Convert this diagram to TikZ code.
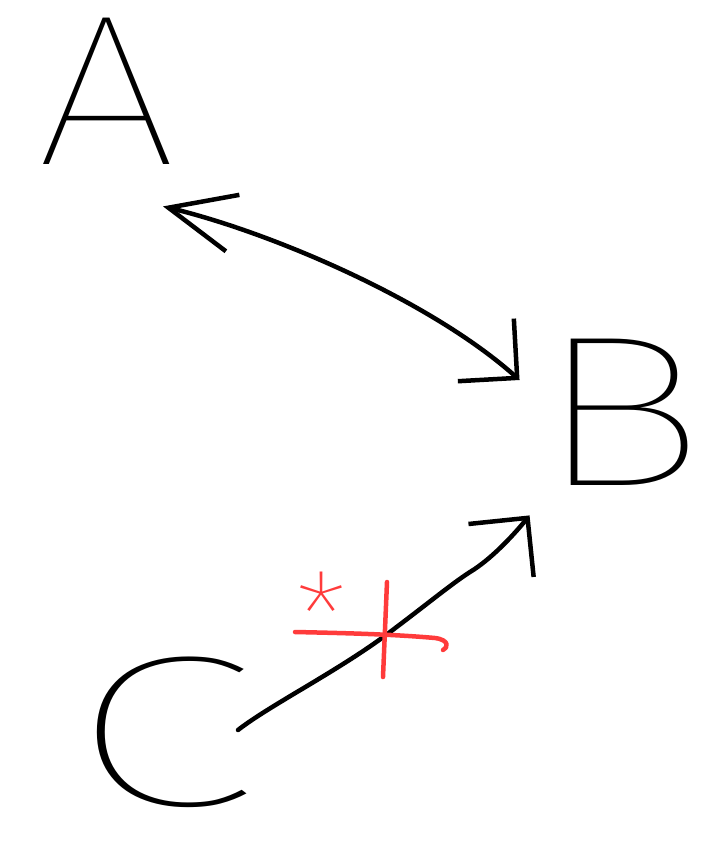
\documentclass[tikz,border=0pt]{standalone}
\usepackage{fontspec}
\usepackage{xcolor}
\usetikzlibrary{arrows.meta}
\newfontfamily\sketchfont{Fira Sans}[UprightFont=* Thin]
\definecolor{penred}{RGB}{255, 59, 59}

\begin{document}
\begin{tikzpicture}[x=1pt, y={(0pt,-1pt)}, line cap=round, line join=round,
    letter/.style={inner sep=0pt, transform shape, font=\sketchfont\fontsize{215}{215}\selectfont},
    pen/.style={line width=4.5pt, black},
    redpen/.style={line width=4.5pt, penred},
    >={Straight Barb[length=42pt, width=84pt]}]
    \useasboundingbox (0,0) rectangle (727,847);

    \node[letter, xscale=1.17] (A) at (107, 91) {A};
    \node[letter, xscale=1.35] (B) at (621, 412) {B};
    \node[letter, xscale=1.6] (C) at (163, 732) {C};

    \draw[pen, {Straight Barb[length=66pt, width=58pt]}->] ([shift={(56,42)}]A.south) .. controls (270,232) and (430,300) .. ([shift={(-16,-32)}]B.west);
    \draw[pen, ->] ([shift={(75,-2)}]C.center) .. controls (270,705) and (340,670) .. (390,632)
        .. controls (430,602) and (450,585) .. (470,572)
        .. controls (490,560) and (512,537) .. ([shift={(-6,30)}]B.south west);

    % red mark on the lower arrow
    \node[anchor=north, text=penred, inner sep=0pt, font=\sketchfont\fontsize{125}{125}\selectfont] (star) at (321, 572) {*};
    \draw[redpen] (295,632) .. controls (340,633) and (390,634) .. (435,638) .. controls (450,640) and (448,648) .. (443,650);
    \draw[redpen] (387,582) -- (383,677);
\end{tikzpicture}
\end{document}
